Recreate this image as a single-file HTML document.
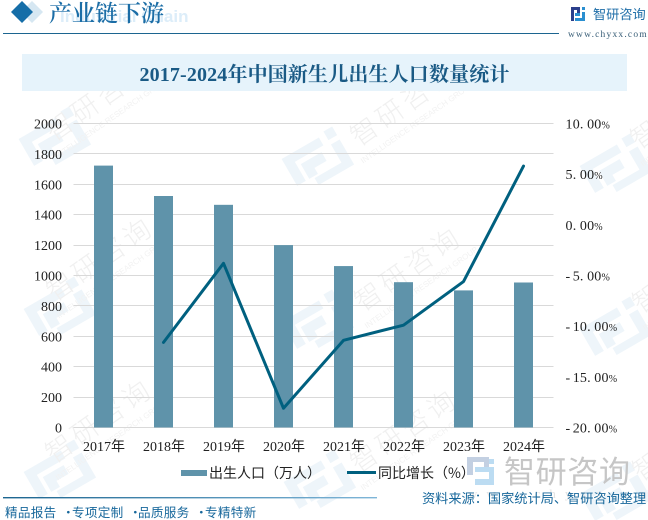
<!DOCTYPE html>
<html lang="zh-CN">
<head>
<meta charset="utf-8">
<title>2017-2024年中国新生儿出生人口数量统计</title>
<style>
html,body{margin:0;padding:0;background:#fff}
#page{position:relative;width:648px;height:520px;overflow:hidden;background:#fff;font-family:"Liberation Serif","Noto Sans CJK SC",serif}
svg{position:absolute;left:0;top:0}
</style>
</head>
<body>
<div id="page">
<svg id="chart" width="648" height="520" viewBox="0 0 648 520" xmlns="http://www.w3.org/2000/svg">
  <defs>
    <linearGradient id="footGrad" x1="0" x2="1" y1="0" y2="0">
      <stop offset="0" stop-color="#1c6590"/><stop offset="1" stop-color="#7fb6d8"/>
    </linearGradient>
    <g id="wm-logo">
      <path d="M-31 -19 L12 -19 L12 -10 L-21 -10 L-21 12 L-31 12 Z M-17 -5 L7 -5 L7 5 L-7 5 L-7 12 L-17 12 Z M19 -22 L29 -22 L29 -12 L19 -12 Z M19 -7 L29 -7 L29 22 L-12 22 L-12 14 L19 14 Z" fill="#eef5fa"/>
    </g>
  </defs>

  <g id="watermarks"></g>

  <g>
    <path d="M32 1 L43 12 L32 23 L21 12 Z" fill="#d6e7f2"/>
    <path d="M22 1 L33 12 L22 23 L11 12 Z" fill="#156ea8"/>
    <text x="60" y="22" font-family="Liberation Sans" font-weight="700" font-size="17" fill="#dcedf9">Industrial Chain</text>
    <text x="49" y="21" font-family="'Noto Serif CJK SC',serif" font-size="23" font-weight="600" fill="#1b6da6">产业链下游</text>
    <rect x="3" y="33" width="556" height="1" fill="#1c6590"/>
    <g>
      <rect x="571" y="7" width="6" height="3" fill="#2b3f8c"/>
      <rect x="571" y="7" width="3" height="14" fill="#2b3f8c"/>
      <rect x="577" y="7" width="3" height="6" fill="#2b3f8c"/>
      <rect x="575" y="13" width="5" height="3" fill="#2a8fd0"/>
      <rect x="575" y="18" width="10" height="3" fill="#2a8fd0"/>
      <rect x="582" y="7" width="3" height="3" fill="#2a8fd0"/>
      <rect x="582" y="12" width="3" height="9" fill="#2a8fd0"/>
    </g>
    <text x="593" y="19" font-family="'Noto Sans CJK SC',sans-serif" font-size="13.2" fill="#1f6ea8">智研咨询</text>
    <text x="568" y="37" font-family="'Liberation Serif',serif" font-size="9.5" letter-spacing="1.2" fill="#3a5f78">www.chyxx.com</text>
  </g>

  <rect x="22" y="54" width="605" height="37" fill="#e6f3fb"/>
  <text x="324.5" y="81" text-anchor="middle" font-family="'Liberation Serif','Noto Serif CJK SC',serif" font-weight="700" font-size="20" letter-spacing="0.15" fill="#1a5a85">2017-2024年中国新生儿出生人口数量统计</text>

  <g id="grid"></g>
  <g id="bars"></g>
  <g id="line"></g>
  <g id="ylabels" font-family="'Liberation Serif',serif" font-size="14" fill="#222"></g>
  <g id="y2labels" font-family="'Liberation Serif',serif" font-size="14" fill="#222"></g>
  <g id="xlabels" font-family="'Liberation Serif','Noto Sans CJK SC',serif" font-size="14" fill="#222"></g>

  <g>
    <rect x="181" y="470" width="26" height="6" fill="#5f93aa"/>
    <text x="209" y="478" font-family="'Noto Sans CJK SC',sans-serif" font-size="14" fill="#222">出生人口（万人）</text>
    <rect x="347" y="471" width="29" height="3" fill="#00607f"/>
    <text x="378" y="478" font-family="'Noto Sans CJK SC',sans-serif" font-size="14" fill="#222">同比增长（%）</text>
  </g>

  <g>
    <g fill="#c3d0e2">
      <rect x="467" y="457" width="22" height="5"/>
      <rect x="467" y="457" width="6" height="18"/>
      <rect x="484" y="457" width="5" height="14"/>
    </g>
    <g fill="#bcdcf2">
      <rect x="475" y="467" width="14" height="5"/>
      <rect x="475" y="479" width="19" height="6"/>
      <rect x="489" y="459" width="5" height="5"/>
      <rect x="489" y="467" width="5" height="18"/>
    </g>
    <text x="504" y="483" font-family="'Noto Sans CJK SC',sans-serif" font-size="31" fill="#c6c6c6" textLength="126">智研咨询</text>
    <text x="468" y="498" font-family="'Liberation Serif',serif" font-size="13" letter-spacing="9" fill="#e2e2e2">www.chyxx.com</text>
  </g>

  <rect x="3" y="497" width="374" height="1.4" fill="url(#footGrad)"/>
  <g font-family="'Noto Sans CJK SC',sans-serif" font-size="12.6" letter-spacing="0.3" fill="#17679b">
    <text x="5" y="517">精品报告</text>
    <text x="62" y="517">·</text>
    <text x="72" y="517">专项定制</text>
    <text x="129" y="517">·</text>
    <text x="138" y="517">品质服务</text>
    <text x="195" y="517">·</text>
    <text x="205" y="517">专精特新</text>
  </g>
  <text x="422" y="503" font-family="'Noto Sans CJK SC',sans-serif" font-size="13.2" fill="#17679b">资料来源：国家统计局、智研咨询整理</text>
</svg>
</div>

<script>
const categories = ["2017年","2018年","2019年","2020年","2021年","2022年","2023年","2024年"];
const birthPopulation = [1723,1523,1465,1200,1062,956,902,954];
const growthPct = [null,-11.6,-3.8,-18.1,-11.4,-9.9,-5.6,5.8];
const leftTicks = [0,200,400,600,800,1000,1200,1400,1600,1800,2000];
const rightTicks = [-20,-15,-10,-5,0,5,10];
const rightTickLabels = ["-20.00","-15.00","-10.00","-5.00","0.00","5.00","10.00"];

const NS = 'http://www.w3.org/2000/svg';
const plot = {left:73.5,right:553.5,top:123.5,bottom:427.5};
const leftMax = 2000;
const rightMin = -20, rightMax = 10;
function xCenter(i){ return plot.left + (i + 0.5) * (plot.right - plot.left) / categories.length; }
function yLeft(v){ return plot.bottom - (v / leftMax) * (plot.bottom - plot.top); }
function yRight(v){ return plot.bottom - ((v - rightMin) / (rightMax - rightMin)) * (plot.bottom - plot.top); }
function mk(tag, parent){ const el = document.createElementNS(NS, tag); parent.appendChild(el); return el; }

const gridG = document.getElementById('grid');
const barsG = document.getElementById('bars');
const lineG = document.getElementById('line');
const yG = document.getElementById('ylabels');
const y2G = document.getElementById('y2labels');
const xG = document.getElementById('xlabels');
const wmG = document.getElementById('watermarks');

leftTicks.forEach(function(t){
  const y = yLeft(t);
  const ln = mk('line', gridG);
  
  
  ln.setAttribute('x1', plot.left);
  ln.setAttribute('x2', plot.right);
  ln.setAttribute('y1', Math.floor(y) + 0.5);
  ln.setAttribute('y2', Math.floor(y) + 0.5);
  ln.setAttribute('stroke', '#d9d9d9');
  ln.setAttribute('stroke-width', '1');
  const tx = mk('text', yG);
  
  
  tx.setAttribute('x', 62);
  tx.setAttribute('y', y + 5);
  tx.setAttribute('text-anchor', 'end');
  tx.textContent = t;
});

const monoPitch = 7.2;
const rightLabelLeft = 565.5;
rightTicks.forEach(function(t, i){
  const label = rightTickLabels[i];
  const tx = mk('text', y2G);
  
  
  const xs = [];
  for (let c = 0; c <= label.length; c++) { xs.push((rightLabelLeft + c * monoPitch).toFixed(1)); }
  tx.setAttribute('x', xs.join(' '));
  tx.setAttribute('y', yRight(t) + 5);
  const body = mk('tspan', tx);
  body.textContent = label;
  const pct = mk('tspan', tx);
  pct.setAttribute('font-size', '10');
  pct.textContent = '%';
});

const barWidth = 19;
birthPopulation.forEach(function(v, i){
  const r = mk('rect', barsG);
  
  
  r.setAttribute('x', xCenter(i) - barWidth / 2);
  r.setAttribute('y', yLeft(v));
  r.setAttribute('width', barWidth);
  r.setAttribute('height', yLeft(0) - yLeft(v));
  r.setAttribute('fill', '#5f93aa');
});

let d = '';
growthPct.forEach(function(v, i){
  if (v === null) return;
  d += (d ? ' L' : 'M') + xCenter(i) + ' ' + yRight(v);
});
const path = mk('path', lineG);


path.setAttribute('d', d);
path.setAttribute('fill', 'none');
path.setAttribute('stroke', '#00607f');
path.setAttribute('stroke-width', '3');
path.setAttribute('stroke-linejoin', 'round');
path.setAttribute('stroke-linecap', 'round');

categories.forEach(function(c, i){
  const tx = mk('text', xG);
  
  
  tx.setAttribute('x', xCenter(i) + 0.5);
  tx.setAttribute('y', 451);
  tx.setAttribute('text-anchor', 'middle');
  tx.textContent = c;
});

const wmLogos = [[55,140],[318,160],[616,167],[60,310],[318,323],[616,330],[60,473],[320,483],[616,495]];
const wmNames = [[100,100],[405,105],[101,260],[409,270],[100,422],[405,432],[685,108],[687,272],[687,440]];
wmLogos.forEach(function(p){
  const u = mk('use', wmG);
  
  
  u.setAttribute('href', '#wm-logo');
  u.setAttribute('transform', 'translate(' + p[0] + ' ' + p[1] + ') rotate(-30)');
});
wmNames.forEach(function(p){
  const g = mk('g', wmG);
  
  
  g.setAttribute('transform', 'translate(' + p[0] + ' ' + p[1] + ') rotate(-35)');
  const t = mk('text', g);
  t.setAttribute('text-anchor', 'middle');
  t.setAttribute('y', 8);
  t.setAttribute('font-family', 'Noto Sans CJK SC');
  t.setAttribute('font-size', '27');
  t.setAttribute('font-weight', '300');
  t.setAttribute('letter-spacing', '4');
  t.setAttribute('fill', '#f0f0f0');
  t.textContent = '智研咨询';
  const s = mk('text', g);
  s.setAttribute('text-anchor', 'middle');
  s.setAttribute('y', 24);
  s.setAttribute('font-family', 'Liberation Sans');
  s.setAttribute('font-size', '8');
  s.setAttribute('fill', '#f2f2f2');
  s.textContent = 'INTELLIGENCE RESEARCH GROUP';
});
</script>
</body>
</html>
